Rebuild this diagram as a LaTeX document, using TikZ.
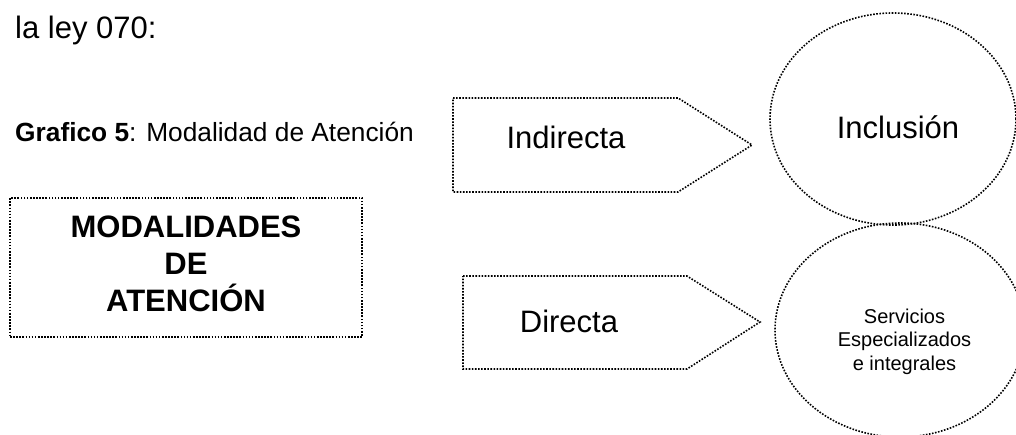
\documentclass[tikz,border=0pt]{standalone}
\usepackage{fontspec}
\setmainfont{Liberation Sans}
\usetikzlibrary{shapes.geometric}
\begin{document}
\begin{tikzpicture}[x=1pt,y=-1pt,
  dotline/.style={line width=1.6pt, dash pattern=on 1.6pt off 1.5pt},
  bigtext/.style={font=\fontsize{31}{37}\selectfont, inner sep=0pt},
  txt/.style={inner sep=0pt, anchor=base},
  oval/.style={draw, dotline, ellipse, inner sep=0pt}]
\useasboundingbox (0,0) rectangle (1016,434);
\begin{scope}
\clip (0,0) rectangle (1016,434);
% header texts
\node[bigtext, anchor=base west] (ley) at (15,38) {la ley 070:};
\node[inner sep=0pt, anchor=base west, font=\fontsize{26.3}{31}\selectfont] (graf) at (15,141) {\textbf{Grafico 5}: Modalidad de Atención};
% main box
\node[draw, dotline, minimum width=352pt, minimum height=139pt, inner sep=0pt] (mod) at (186,267.5) {};
\node[bigtext, align=center, font=\fontsize{31}{37}\selectfont\bfseries] (modtxt) at (186,263.5) {MODALIDADES\\DE\\ATENCIÓN};
% arrow shapes
\coordinate (i1) at (453,98);
\coordinate (i2) at (678,98);
\coordinate (i3) at (752,145);
\coordinate (i4) at (678,192);
\coordinate (i5) at (453,192);
\draw[dotline] (i1) -- (i2) -- (i3) -- (i4) -- (i5) -- cycle;
\node[txt, bigtext, anchor=base] (ind) at (566,148) {Indirecta};
\coordinate (d1) at (463,276);
\coordinate (d2) at (687,276);
\coordinate (d3) at (760,322);
\coordinate (d4) at (687,369);
\coordinate (d5) at (463,369);
\draw[dotline] (d1) -- (d2) -- (d3) -- (d4) -- (d5) -- cycle;
\node[txt, bigtext, anchor=base] (dir) at (569,332) {Directa};
% ovals
\node[oval, minimum width=246pt, minimum height=212pt] (inc) at (893,119) {};
\node[txt, bigtext, anchor=base] (inctxt) at (898,138) {Inclusión};
\node[oval, minimum width=250pt, minimum height=214pt] (serv) at (900,330) {};
\node[inner sep=0pt, anchor=base, align=center, font=\fontsize{20}{23.5}\selectfont] (servtxt) at (904.5,370) {Servicios\\Especializados\\e integrales};
\end{scope}
\end{tikzpicture}
\end{document}
